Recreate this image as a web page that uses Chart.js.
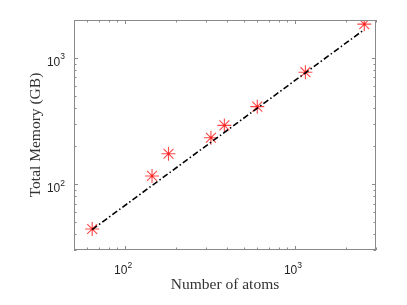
<!DOCTYPE html>
<html>
<head>
<meta charset="utf-8">
<script src="https://cdn.jsdelivr.net/npm/chart.js@4.4.1/dist/chart.umd.min.js"></script>
<style>
  html, body { margin: 0; padding: 0; background: #fff; }
  #wrap { width: 407px; height: 305px; }
</style>
</head>
<body>
<div id="wrap"><canvas id="memChart" width="407" height="305"></canvas></div>
<script>
// measured points
const atoms = [64, 144, 180, 320, 384, 600, 1152, 2560];
const memoryGB = [44, 116, 174, 233, 292, 411, 771, 1854];

// linear fit line (end points)
const fitAtoms = [64, 2560];
const fitMemory = [43.6, 1680];

const xMajor = [100, 1000];
const yMajor = [100, 1000];
const xRange = [50, 3000];
const yRange = [30, 2000];

const axisGrey = "#8a8a8a";
const textGrey = "#262626";

function logTicks(min, max){
  const out = [];
  for (let e = Math.floor(Math.log10(min)); e <= Math.ceil(Math.log10(max)); e++){
    for (let m = 1; m < 10; m++){
      const v = m * Math.pow(10, e);
      if (v >= min && v <= max) out.push({ v, major: m === 1 });
    }
  }
  return out;
}

function drawPow(ctx, x, y, exp, align){
  ctx.font = "12px 'Liberation Sans', Arial, sans-serif";
  const wBase = ctx.measureText("10").width;
  ctx.font = "8.5px 'Liberation Sans', Arial, sans-serif";
  const wExp = ctx.measureText(exp).width;
  const total = wBase + wExp;
  let x0 = align === "right" ? x - total : x - total / 2;
  ctx.textAlign = "left";
  ctx.textBaseline = "alphabetic";
  ctx.font = "12px 'Liberation Sans', Arial, sans-serif";
  ctx.fillText("10", x0, y);
  ctx.font = "8.5px 'Liberation Sans', Arial, sans-serif";
  ctx.fillText(exp, x0 + wBase, y - 6.5);
}

const matlabAxes = {
  id: "matlabAxes",
  afterDraw(chart){
    const { ctx, chartArea: a, scales: { x, y } } = chart;
    ctx.save();
    ctx.strokeStyle = axisGrey;
    ctx.lineWidth = 1;
    ctx.strokeRect(a.left + 0.5, a.top + 0.5, a.right - a.left - 1, a.bottom - a.top - 1);

    ctx.beginPath();
    logTicks(xRange[0], xRange[1]).forEach(t => {
      const px = Math.round(x.getPixelForValue(t.v)) + 0.5;
      const len = t.major ? 4 : 2.5;
      ctx.moveTo(px, a.bottom); ctx.lineTo(px, a.bottom - len);
      ctx.moveTo(px, a.top); ctx.lineTo(px, a.top + len);
    });
    logTicks(yRange[0], yRange[1]).forEach(t => {
      const py = Math.round(y.getPixelForValue(t.v)) + 0.5;
      const len = t.major ? 4 : 2.5;
      ctx.moveTo(a.left, py); ctx.lineTo(a.left + len, py);
      ctx.moveTo(a.right, py); ctx.lineTo(a.right - len, py);
    });
    ctx.stroke();

    ctx.fillStyle = textGrey;
    xMajor.forEach(v => {
      drawPow(ctx, x.getPixelForValue(v) - 2, a.bottom + 24, String(Math.round(Math.log10(v))), "center");
    });
    yMajor.forEach(v => {
      drawPow(ctx, a.left - 9, y.getPixelForValue(v) + 8, String(Math.round(Math.log10(v))), "right");
    });
    ctx.restore();
  }
};

const titleFont = { family: "'Liberation Serif', 'Times New Roman', serif", size: 15.5 };

new Chart(document.getElementById("memChart").getContext("2d"), {
  type: "scatter",
  data: {
    datasets: [
      {
        label: "fit",
        type: "line",
        data: fitAtoms.map((a, i) => ({ x: a, y: fitMemory[i] })),
        borderColor: "#000",
        borderWidth: 1.6,
        borderDash: [6, 2.5, 1.5, 2.5],
        pointRadius: 0,
        fill: false
      },
      {
        label: "memory",
        data: atoms.map((a, i) => ({ x: a, y: memoryGB[i] })),
        pointStyle: "star",
        pointRadius: 7,
        borderColor: "rgba(255,40,40,0.85)",
        borderWidth: 1.1,
        backgroundColor: "transparent"
      },
      {
        label: "centers",
        data: atoms.map((a, i) => ({ x: a, y: memoryGB[i] })),
        pointStyle: "circle",
        pointRadius: 1.2,
        borderWidth: 0,
        backgroundColor: "#c00000"
      }
    ]
  },
  options: {
    responsive: false,
    animation: false,
    layout: { padding: { top: 20, right: 31, left: 0, bottom: 0 } },
    plugins: { legend: { display: false }, tooltip: { enabled: false } },
    scales: {
      x: {
        type: "logarithmic",
        min: xRange[0],
        max: xRange[1],
        grid: { display: false, drawTicks: false },
        border: { display: false },
        ticks: { display: false },
        title: {
          display: true,
          text: "Number of atoms",
          color: "#333",
          font: titleFont,
          padding: { top: 0, bottom: 11 }
        },
        afterFit(scale){ scale.height = 55; }
      },
      y: {
        type: "logarithmic",
        min: yRange[0],
        max: yRange[1],
        grid: { display: false, drawTicks: false },
        border: { display: false },
        ticks: { display: false },
        title: {
          display: true,
          text: "Total Memory (GB)",
          color: "#333",
          font: titleFont,
          padding: { top: 27, bottom: 0 }
        },
        afterFit(scale){ scale.width = 74; }
      }
    }
  },
  plugins: [matlabAxes]
});
</script>
</body>
</html>
